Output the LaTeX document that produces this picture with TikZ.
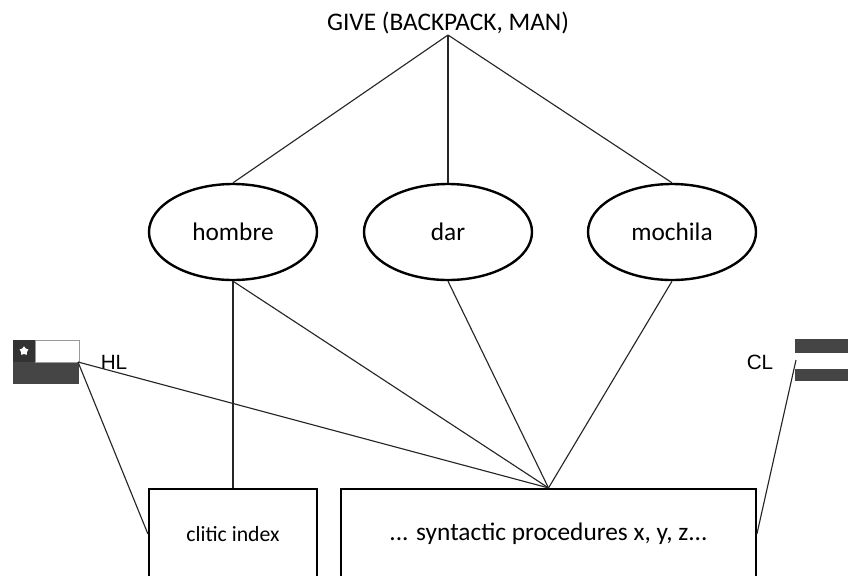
\documentclass[tikz,border=0pt]{standalone}
\usepackage{xcolor}
\usepackage{fontspec}
\setmainfont{Carlito}
\newfontfamily\labelfont{Liberation Sans}
\usetikzlibrary{shapes,positioning}
\definecolor{flagdark}{gray}{0.27}
\definecolor{flagblack}{gray}{0.2}
\definecolor{flagedge}{gray}{0.6}
\definecolor{linegray}{gray}{0.15}
\tikzset{
    concept/.style={ellipse, draw=black, line width=1.8pt, minimum width=126pt, minimum height=72pt, inner sep=0pt, font=\fontsize{19}{22}\selectfont},
    procbox/.style={rectangle, draw=black, line width=1.6pt, minimum height=67.5pt, inner sep=0pt},
    link/.style={draw=linegray, line width=0.85pt},
    langlabel/.style={inner sep=0pt, font=\labelfont\fontsize{15.5}{18}\selectfont},
    flagpart/.style={rectangle, inner sep=0pt, anchor=north west}
}

\begin{document}
\begin{tikzpicture}[x=0.75pt, y=-0.75pt]
    \clip (0,0) rectangle (848,575);

    \node (give) [inner sep=0pt, font=\fontsize{19}{22}\selectfont] at (448,23) {GIVE (BACKPACK, MAN)};

    \node (hombre) [concept] at (233,232) {hombre};
    \node (dar) [concept] at (448,232) {dar};
    \node (mochila) [concept] at (672,232) {mochila};

    \node (clitic) [procbox, minimum width=126pt, font=\fontsize{16.3}{19}\selectfont] at (233,534) {clitic index};
    \node (syntactic) [procbox, minimum width=311pt, font=\fontsize{19}{22}\selectfont] at (548.5,534) {... syntactic procedures x, y, z...};

    % left flag
    \node (hlred) [flagpart, fill=flagdark, minimum width=49.5pt, minimum height=16.5pt] at (13,362) {};
    \node (hlblue) [flagpart, fill=flagblack, minimum width=16.5pt, minimum height=16.5pt] at (13,340) {};
    \node (hlwhite) [flagpart, fill=white, draw=flagedge, line width=0.6pt, minimum width=33pt, minimum height=16.5pt] at (35,340) {};
    \node (hlstar) [star, star points=5, fill=white, minimum size=7pt, inner sep=0pt] at (24,351) {};
    \node (hl) [langlabel] at (114,362) {HL};

    % right flag
    \node (cltop) [flagpart, fill=flagdark, minimum width=45pt, minimum height=10.5pt] at (795,339) {};
    \node (clbottom) [flagpart, fill=flagdark, minimum width=45pt, minimum height=9pt] at (795,369) {};
    \node (cl) [langlabel] at (760,362) {CL};

    \coordinate (hlcorner) at (78,362);
    \coordinate (clcorner) at (796,360);
    \coordinate (giveroot) at (448,35);

    \draw [link] (giveroot) -- (hombre.north);
    \draw [link] (giveroot) -- (dar.north);
    \draw [link] (giveroot) -- (mochila.north);

    \draw [link] (hombre.south) -- (clitic.north);
    \draw [link] (hombre.south) -- (syntactic.north);
    \draw [link] (dar.south) -- (syntactic.north);
    \draw [link] (mochila.south) -- (syntactic.north);

    \draw [link] (hlcorner) -- (syntactic.north);
    \draw [link] (hlcorner) -- (clitic.west);
    \draw [link] (clcorner) -- (syntactic.east);
\end{tikzpicture}
\end{document}
